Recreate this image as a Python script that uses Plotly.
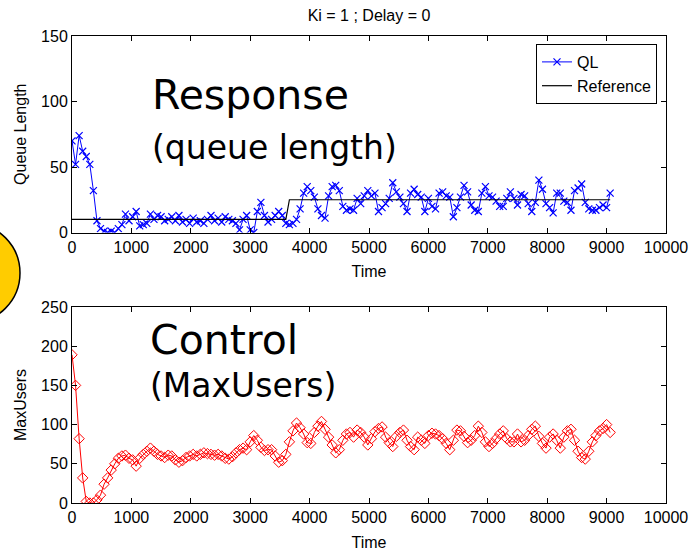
import plotly.graph_objects as go

time = [0, 60, 120, 180, 240, 300, 360, 420, 480, 540,
        600, 660, 720, 780, 840, 900, 960, 1020, 1080, 1140,
        1200, 1260, 1320, 1380, 1440, 1500, 1560, 1620, 1680, 1740,
        1800, 1860, 1920, 1980, 2040, 2100, 2160, 2220, 2280, 2340,
        2400, 2460, 2520, 2580, 2640, 2700, 2760, 2820, 2880, 2940,
        3000, 3060, 3120, 3180, 3240, 3300, 3360, 3420, 3480, 3540,
        3600, 3660, 3720, 3780, 3840, 3900, 3960, 4020, 4080, 4140,
        4200, 4260, 4320, 4380, 4440, 4500, 4560, 4620, 4680, 4740,
        4800, 4860, 4920, 4980, 5040, 5100, 5160, 5220, 5280, 5340,
        5400, 5460, 5520, 5580, 5640, 5700, 5760, 5820, 5880, 5940,
        6000, 6060, 6120, 6180, 6240, 6300, 6360, 6420, 6480, 6540,
        6600, 6660, 6720, 6780, 6840, 6900, 6960, 7020, 7080, 7140,
        7200, 7260, 7320, 7380, 7440, 7500, 7560, 7620, 7680, 7740,
        7800, 7860, 7920, 7980, 8040, 8100, 8160, 8220, 8280, 8340,
        8400, 8460, 8520, 8580, 8640, 8700, 8760, 8820, 8880, 8940,
        9000, 9060]

queue_length = [70, 52, 74, 62, 58, 52, 32, 9, 3, 1,
                0, 1, 0, 3, 6, 14, 9, 12, 16, 5,
                6, 7, 14, 10, 13, 12, 9, 10, 12, 9,
                13, 8, 10, 7, 11, 8, 9, 7, 10, 13,
                9, 11, 8, 12, 10, 9, 7, 2, 10, 13,
                2, 0, 16, 23, 13, 8, 10, 13, 16, 13,
                7, 6, 7, 10, 18, 30, 35, 32, 27, 18,
                13, 11, 28, 35, 36, 32, 20, 17, 18, 17,
                26, 22, 28, 32, 28, 30, 16, 19, 22, 26,
                38, 31, 27, 22, 16, 30, 33, 29, 27, 16,
                26, 20, 18, 30, 31, 28, 27, 12, 19, 27,
                36, 31, 21, 17, 16, 30, 35, 28, 27, 24,
                20, 20, 26, 31, 26, 21, 29, 28, 22, 16,
                23, 40, 33, 22, 19, 15, 30, 30, 24, 23,
                17, 32, 34, 37, 23, 18, 17, 17, 19, 21,
                19, 30]

reference = [10] * 61 + [25] * 91

max_users = [189, 150, 82, 32, 2, 0, 0, 4, 10, 24,
             32, 42, 50, 57, 60, 61, 57, 55, 47, 57,
             62, 66, 70, 66, 62, 60, 58, 61, 60, 55,
             52, 54, 58, 60, 62, 60, 62, 64, 63, 62,
             61, 62, 60, 57, 56, 59, 64, 68, 70, 68,
             78, 86, 80, 71, 67, 68, 68, 60, 52, 54,
             62, 78, 92, 102, 96, 88, 77, 76, 90, 98,
             104, 94, 84, 74, 64, 68, 80, 88, 90, 84,
             93, 90, 84, 74, 82, 91, 95, 97, 84, 77,
             72, 85, 90, 93, 80, 72, 68, 84, 80, 76,
             86, 89, 88, 86, 82, 76, 68, 80, 93, 92,
             85, 77, 80, 86, 98, 90, 78, 72, 76, 82,
             88, 92, 82, 78, 78, 88, 78, 80, 86, 94,
             98, 85, 76, 70, 84, 88, 80, 70, 84, 92,
             94, 80, 66, 58, 56, 66, 78, 86, 92, 95,
             100, 90]

x_ticks = [0, 1000, 2000, 3000, 4000, 5000, 6000, 7000, 8000, 9000, 10000]
x_tick_labels = ["0", "1000", "2000", "3000", "4000", "5000", "6000", "7000", "8000", "9000", "10000"]
ql_ticks = [0, 50, 100, 150]
mu_ticks = [0, 50, 100, 150, 200, 250]

W, H = 691, 553
ML, MR, MT, MB = 72, 25, 36, 50
PW, PH = W - ML - MR, H - MT - MB


def px(x):
    return (x - ML) / PW


def py(y):
    return (H - MB - y) / PH


FONT = "Liberation Sans, Arial, sans-serif"
BIG = "DejaVu Sans, Verdana, sans-serif"

fig = go.Figure()
fig.add_trace(go.Scatter(
    x=time, y=queue_length, name="QL", mode="lines+markers",
    line=dict(color="#0000FF", width=1),
    marker=dict(symbol="x-thin", size=7, line=dict(color="#0000FF", width=1.2)),
    xaxis="x", yaxis="y"))
fig.add_trace(go.Scatter(
    x=time, y=reference, name="Reference", mode="lines",
    line=dict(color="black", width=1.2),
    xaxis="x", yaxis="y"))
fig.add_trace(go.Scatter(
    x=time, y=max_users, name="MaxUsers", mode="lines+markers", showlegend=False,
    line=dict(color="#FF0000", width=1),
    marker=dict(symbol="diamond-open", size=8, color="#FF0000", line=dict(width=1)),
    xaxis="x2", yaxis="y2"))

axis_common = dict(
    showgrid=False, zeroline=False, showline=True, linecolor="black", linewidth=1,
    mirror="ticks", ticks="inside", ticklen=5, tickcolor="black", automargin=False,
    tickfont=dict(family=FONT, size=16, color="black"),
)

fig.update_layout(
    width=W, height=H,
    margin=dict(l=ML, r=MR, t=MT, b=MB, autoexpand=False),
    paper_bgcolor="white", plot_bgcolor="white",
    font=dict(family=FONT, size=16, color="black"),
    title=dict(text="Ki = 1 ; Delay = 0", x=(ML + PW / 2) / W, xanchor="center",
               y=(H - 15) / H, yanchor="middle", yref="container",
               font=dict(family=FONT, size=16, color="black")),
    xaxis=dict(domain=[0, 1], range=[0, 10000], tickvals=x_ticks, ticktext=x_tick_labels, anchor="y",
               title=dict(text="Time", standoff=11, font=dict(family=FONT, size=16)), **axis_common),
    yaxis=dict(domain=[py(232.5), 1], range=[0, 150], tickvals=ql_ticks, anchor="x",
               title=dict(text="Queue Length", standoff=10, font=dict(family=FONT, size=16)), **axis_common),
    xaxis2=dict(domain=[0, 1], range=[0, 10000], tickvals=x_ticks, ticktext=x_tick_labels, anchor="y2",
                title=dict(text="Time", standoff=11, font=dict(family=FONT, size=16)), **axis_common),
    yaxis2=dict(domain=[0, py(307)], range=[0, 250], tickvals=mu_ticks, anchor="x2",
                title=dict(text="MaxUsers", standoff=10, font=dict(family=FONT, size=16)), **axis_common),
    legend=dict(x=px(657), y=py(44), xanchor="right", yanchor="top",
                bgcolor="white", bordercolor="black", borderwidth=1,
                font=dict(family=FONT, size=16, color="black"),
                tracegroupgap=0, itemwidth=30),
    showlegend=True,
)

annotations = [
    ("Response", 150, 95, 41),
    ("(queue length)", 150, 147, 33),
    ("Control", 148, 340, 41),
    ("(MaxUsers)", 148, 385, 33),
]
for text, x0, yc, size in annotations:
    fig.add_annotation(text=text, xref="paper", yref="paper", x=px(x0), y=py(yc),
                       xanchor="left", yanchor="middle", showarrow=False,
                       font=dict(family=BIG, size=size, color="black"))

fig.add_shape(type="circle", xref="paper", yref="paper",
              x0=px(-80), x1=px(20), y0=py(323), y1=py(223),
              fillcolor="#FFCC00", line=dict(color="black", width=1.5), layer="above")

fig.write_html("out.html", config={"displayModeBar": False},
               post_script="document.body.style.margin='0';document.body.style.overflow='hidden';")
